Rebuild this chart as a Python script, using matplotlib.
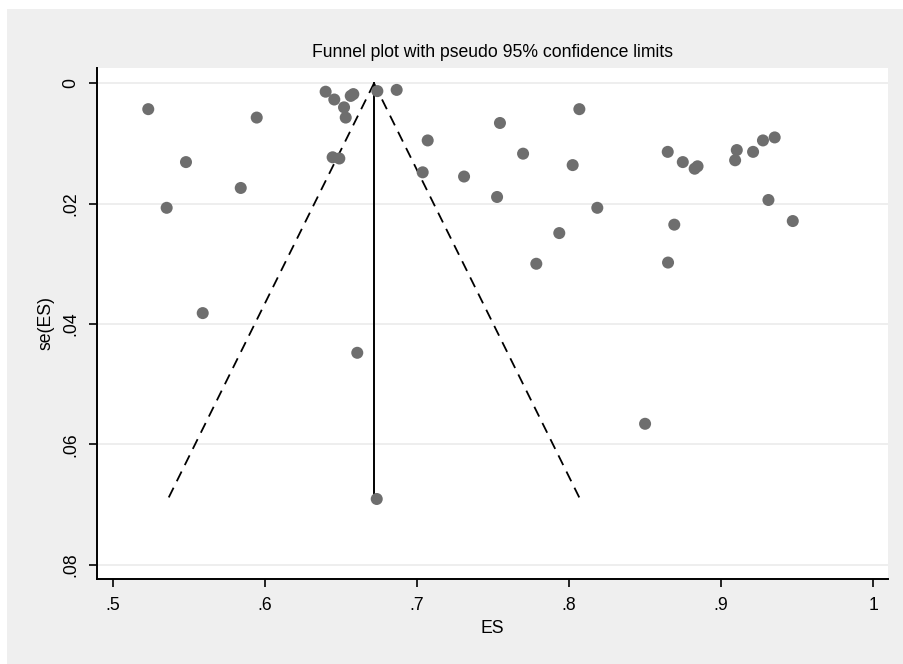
import numpy as np
from matplotlib import pyplot as plt
from matplotlib.patches import Rectangle

# 研究的效应量和标准误
es = [0.5234, 0.5482, 0.5355, 0.5947, 0.5842, 0.6400, 0.6457, 0.6565, 0.6582,
      0.6521, 0.6532, 0.6446, 0.6490, 0.6740, 0.6867, 0.7071, 0.7038, 0.7310,
      0.7546, 0.8068, 0.7698, 0.7527, 0.8024, 0.8186, 0.7936, 0.8649, 0.8748,
      0.8826, 0.8845, 0.9103, 0.9092, 0.9210, 0.9275, 0.9352, 0.9311, 0.9471,
      0.8692, 0.5592, 0.6608, 0.7785, 0.8651, 0.8500, 0.6736]
se = [0.0043, 0.0131, 0.0207, 0.0057, 0.0174, 0.0014, 0.0027, 0.0021, 0.0018,
      0.0040, 0.0057, 0.0123, 0.0125, 0.0013, 0.0011, 0.0095, 0.0148, 0.0155,
      0.0066, 0.0043, 0.0117, 0.0189, 0.0136, 0.0207, 0.0249, 0.0114, 0.0131,
      0.0142, 0.0138, 0.0111, 0.0128, 0.0114, 0.0095, 0.0090, 0.0194, 0.0229,
      0.0235, 0.0382, 0.0448, 0.0300, 0.0298, 0.0566, 0.0691]

theta = 0.6718   # 合并效应量
se_max = 0.0691  # 最大标准误
z = 1.96

x_ticks = [0.5, 0.6, 0.7, 0.8, 0.9, 1.0]
x_labels = ['.5', '.6', '.7', '.8', '.9', '1']
y_ticks = [0, 0.02, 0.04, 0.06, 0.08]
y_labels = ['0', '.02', '.04', '.06', '.08']

plt.rcParams['font.family'] = ['Liberation Sans', 'DejaVu Sans']
fs = 12.7

fig = plt.figure(figsize=(9.04, 6.64), dpi=100, facecolor='white')
# Stata风格的灰色背景（左、上留白边）
fig.patches.append(Rectangle((7 / 904, 0), 1 - 7 / 904, 1 - 9 / 664, transform=fig.transFigure,
                             facecolor='#efefef', edgecolor='none', zorder=-1))

ax = fig.add_axes([97 / 904, 1 - 579 / 664, 791 / 904, 511 / 664])
ax.set_facecolor('white')

# 伪95%置信限
se_line = np.array([0, se_max])
ax.plot(theta - z * se_line, se_line, color='black', lw=1.3, dashes=(6, 4), zorder=3)
ax.plot(theta + z * se_line, se_line, color='black', lw=1.3, dashes=(6, 4), zorder=3)
ax.plot([theta, theta], se_line, color='black', lw=1.4, zorder=3)

ax.scatter(es, se, s=75, color='#6e6e6e', edgecolors='none', zorder=4)

ax.set_xlim(0.4897, 1.0097)
ax.set_ylim(0.0824, -0.00254)

ax.set_xticks(x_ticks)
ax.set_xticklabels(x_labels, fontsize=fs)
ax.set_yticks(y_ticks)
ax.set_yticklabels(y_labels, fontsize=fs, rotation=90, va='center')
ax.tick_params(direction='out', length=6, width=1.2, pad=7)

ax.grid(axis='y', color='#ebebeb', lw=1.2, zorder=0)
ax.set_axisbelow(True)
for s in ['top', 'right']:
    ax.spines[s].set_visible(False)
for s in ['left', 'bottom']:
    ax.spines[s].set_linewidth(1.4)

ax.set_xlabel('ES', fontsize=fs, labelpad=4)
ax.set_ylabel('se(ES)', fontsize=fs, labelpad=5)
ax.set_title('Funnel plot with pseudo 95% confidence limits', fontsize=fs, pad=8)

fig.savefig('out.png', dpi=100, facecolor=fig.get_facecolor())
